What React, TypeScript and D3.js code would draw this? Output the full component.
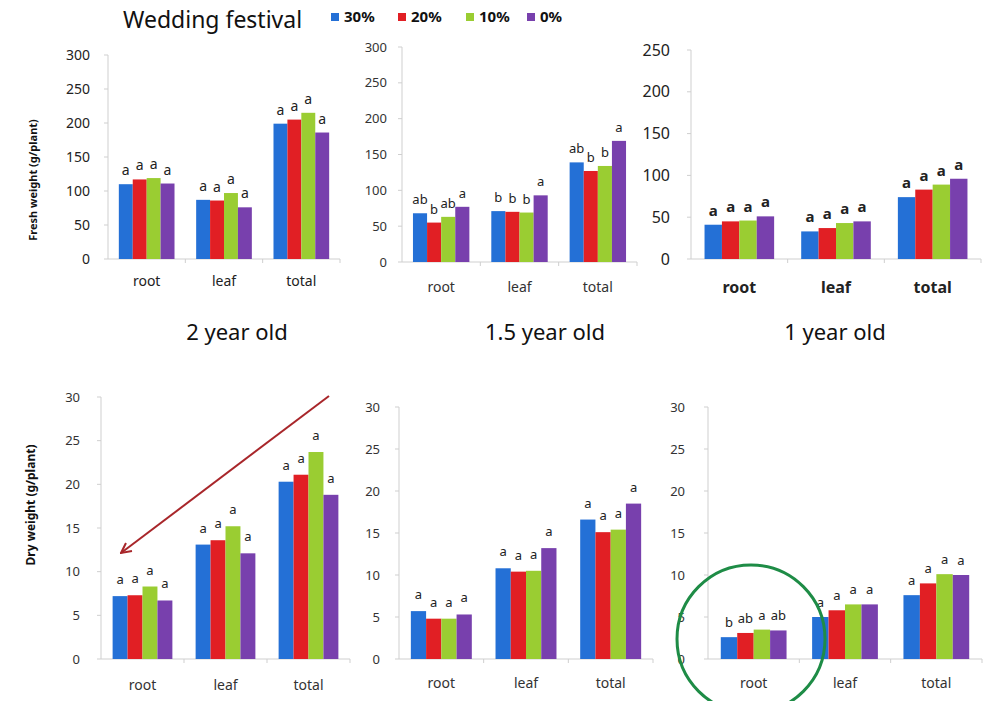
import React from "react";
import * as d3 from "d3";

const categories = ["root", "leaf", "total"];
const seriesNames = ["30%", "20%", "10%", "0%"];
const seriesColors = ["#2470d6", "#e11f24", "#9acd32", "#7840ad"];

// Fresh weight (g/plant), rows = categories, cols = series
const fresh2yr = [[110, 117, 119, 111], [87, 86, 97, 76], [199, 205, 215, 186]];
const fresh15yr = [[68, 55, 63, 77], [71, 70, 69, 93], [139, 127, 134, 169]];
const fresh1yr = [[41, 45, 46, 51], [33, 37, 43, 45], [74, 83, 89, 96]];
// Dry weight (g/plant)
const dry2yr = [[7.2, 7.3, 8.3, 6.7], [13.1, 13.6, 15.2, 12.1], [20.3, 21.1, 23.7, 18.8]];
const dry15yr = [[5.7, 4.8, 4.8, 5.3], [10.8, 10.4, 10.5, 13.2], [16.6, 15.1, 15.4, 18.5]];
const dry1yr = [[2.6, 3.1, 3.5, 3.4], [5.0, 5.8, 6.5, 6.5], [7.6, 9.0, 10.1, 10.0]];

// significance letters
const allA = [["a", "a", "a", "a"], ["a", "a", "a", "a"], ["a", "a", "a", "a"]];
const letters15yrFresh = [["ab", "b", "ab", "a"], ["b", "b", "b", "a"], ["ab", "b", "b", "a"]];
const letters1yrDry = [["b", "ab", "a", "ab"], ["a", "a", "a", "a"], ["a", "a", "a", "a"]];

const ticksFresh300 = [0, 50, 100, 150, 200, 250, 300];
const ticksFresh250 = [0, 50, 100, 150, 200, 250];
const ticksDry = [0, 5, 10, 15, 20, 25, 30];

const ageTitles = ["2 year old", "1.5 year old", "1 year old"];

const FONT = "'Noto Sans', 'Open Sans', sans-serif";

type PanelProps = {
  x0: number; x1: number; yTop: number; yBot: number;
  max: number; ticks: number[]; data: number[][]; letters: string[][];
  tickFont: number; catFont: number; catBold?: boolean; letterFont: number; letterBold?: boolean;
  tickGap: number; catDy: number; letterDy: number; tickColor?: string;
};

function Panel(p: PanelProps) {
  const x = d3.scaleBand<string>().domain(categories).range([p.x0, p.x1]).paddingInner(0.28).paddingOuter(0.14);
  const inner = d3.scaleBand<string>().domain(seriesNames).range([0, x.bandwidth()]);
  const y = d3.scaleLinear().domain([0, p.max]).range([p.yBot, p.yTop]);
  const cat = d3.scaleBand<string>().domain(categories).range([p.x0, p.x1]);
  const tc = p.tickColor || "#222";
  return (
    <g>
      <line x1={p.x0} x2={p.x0} y1={p.yTop} y2={p.yBot} stroke="#cfcfcf" />
      <line x1={p.x0} x2={p.x1} y1={p.yBot} y2={p.yBot} stroke="#cfcfcf" />
      {p.ticks.map((t) => (
        <g key={t}>
          <line x1={p.x0 - 4} x2={p.x0} y1={y(t)} y2={y(t)} stroke="#cfcfcf" />
          <text x={p.x0 - p.tickGap} y={y(t)} dy="0.35em" textAnchor="end" fontSize={p.tickFont} fill={tc} fontFamily={FONT}>{t}</text>
        </g>
      ))}
      {categories.map((c) => (
        <line key={c} x1={(cat(c) as number) + cat.bandwidth()} x2={(cat(c) as number) + cat.bandwidth()} y1={p.yBot} y2={p.yBot + 4} stroke="#cfcfcf" />
      ))}
      {categories.map((c, ci) => (
        <g key={c}>
          {seriesNames.map((s, si) => {
            const v = p.data[ci][si];
            const bx = (x(c) as number) + (inner(s) as number);
            return (
              <g key={s}>
                <rect x={bx} y={y(v)} width={inner.bandwidth()} height={p.yBot - y(v)} fill={seriesColors[si]} />
                <text x={bx + inner.bandwidth() / 2} y={y(v) - p.letterDy} textAnchor="middle" fontSize={p.letterFont} fontWeight={p.letterBold ? "bold" : "normal"} fill="#222" fontFamily={FONT}>{p.letters[ci][si]}</text>
              </g>
            );
          })}
          <text x={(cat(c) as number) + cat.bandwidth() / 2} y={p.yBot + p.catDy} dy="0.35em" textAnchor="middle" fontSize={p.catFont} fontWeight={p.catBold ? "bold" : "normal"} fill={tc} fontFamily={FONT}>{c}</text>
        </g>
      ))}
    </g>
  );
}

export default function App() {
  const legendX = [331, 398, 466, 527];
  const titleX = [237, 545, 835];
  return (
    <svg width={1003} height={701} style={{ position: "absolute", left: 0, top: 0, background: "#fff" }}>
      <rect width={1003} height={701} fill="#fff" />
      <text x={123} y={28} fontSize={23} fontFamily={FONT} fill="#111">Wedding festival</text>
      {seriesNames.map((s, i) => (
        <g key={s}>
          <rect x={legendX[i]} y={13} width={8} height={8} fill={seriesColors[i]} />
          <text x={legendX[i] + 13} y={22} fontSize={15} fontWeight="bold" fontFamily={FONT} fill="#111">{s}</text>
        </g>
      ))}
      <text transform="translate(37,180) rotate(-90)" textAnchor="middle" fontSize={11} fontWeight="bold" fontFamily={FONT} fill="#111">Fresh weight (g/plant)</text>
      <text transform="translate(35,505) rotate(-90)" textAnchor="middle" fontSize={12} fontWeight="bold" fontFamily={FONT} fill="#111">Dry weight (g/plant)</text>

      <Panel x0={108} x1={340} yTop={55} yBot={259} max={300} ticks={ticksFresh300} data={fresh2yr} letters={allA}
        tickFont={14} catFont={14} letterFont={14} tickGap={18} catDy={22} letterDy={9} />
      <Panel x0={402} x1={637} yTop={47} yBot={262} max={300} ticks={ticksFresh300} data={fresh15yr} letters={letters15yrFresh}
        tickFont={13} catFont={14} letterFont={13} tickGap={15} catDy={25} letterDy={9} tickColor="#333" />
      <Panel x0={691} x1={981} yTop={50} yBot={259} max={250} ticks={ticksFresh250} data={fresh1yr} letters={allA}
        tickFont={16} catFont={16} catBold letterFont={15} letterBold tickGap={21} catDy={28} letterDy={9} />

      {ageTitles.map((t, i) => (
        <text key={t} x={titleX[i]} y={332} dy="0.35em" textAnchor="middle" fontSize={22} fontFamily={FONT} fill="#111">{t}</text>
      ))}

      <Panel x0={101} x1={350} yTop={397} yBot={659} max={30} ticks={ticksDry} data={dry2yr} letters={allA}
        tickFont={13} catFont={14} letterFont={13} tickGap={21} catDy={26} letterDy={12} tickColor="#333" />
      <Panel x0={399} x1={653} yTop={407} yBot={659} max={30} ticks={ticksDry} data={dry15yr} letters={allA}
        tickFont={13} catFont={14} letterFont={13} tickGap={19} catDy={24} letterDy={12} tickColor="#333" />
      <Panel x0={708} x1={982} yTop={407} yBot={659} max={30} ticks={ticksDry} data={dry1yr} letters={letters1yrDry}
        tickFont={13} catFont={14} letterFont={13} tickGap={23} catDy={24} letterDy={10} tickColor="#333" />

      <defs>
        <marker id="arrowhead" viewBox="0 0 12 12" refX="11" refY="6" markerWidth="12" markerHeight="12" orient="auto" markerUnits="userSpaceOnUse">
          <path d="M1,1 L11,6 L1,11" fill="none" stroke="#a8262a" strokeWidth={2} />
        </marker>
      </defs>
      <line x1={329} y1={396} x2={121} y2={553} stroke="#a8262a" strokeWidth={2} markerEnd="url(#arrowhead)" />
      <circle cx={751} cy={639} r={74} fill="none" stroke="#1e8c46" strokeWidth={3} />
    </svg>
  );
}
